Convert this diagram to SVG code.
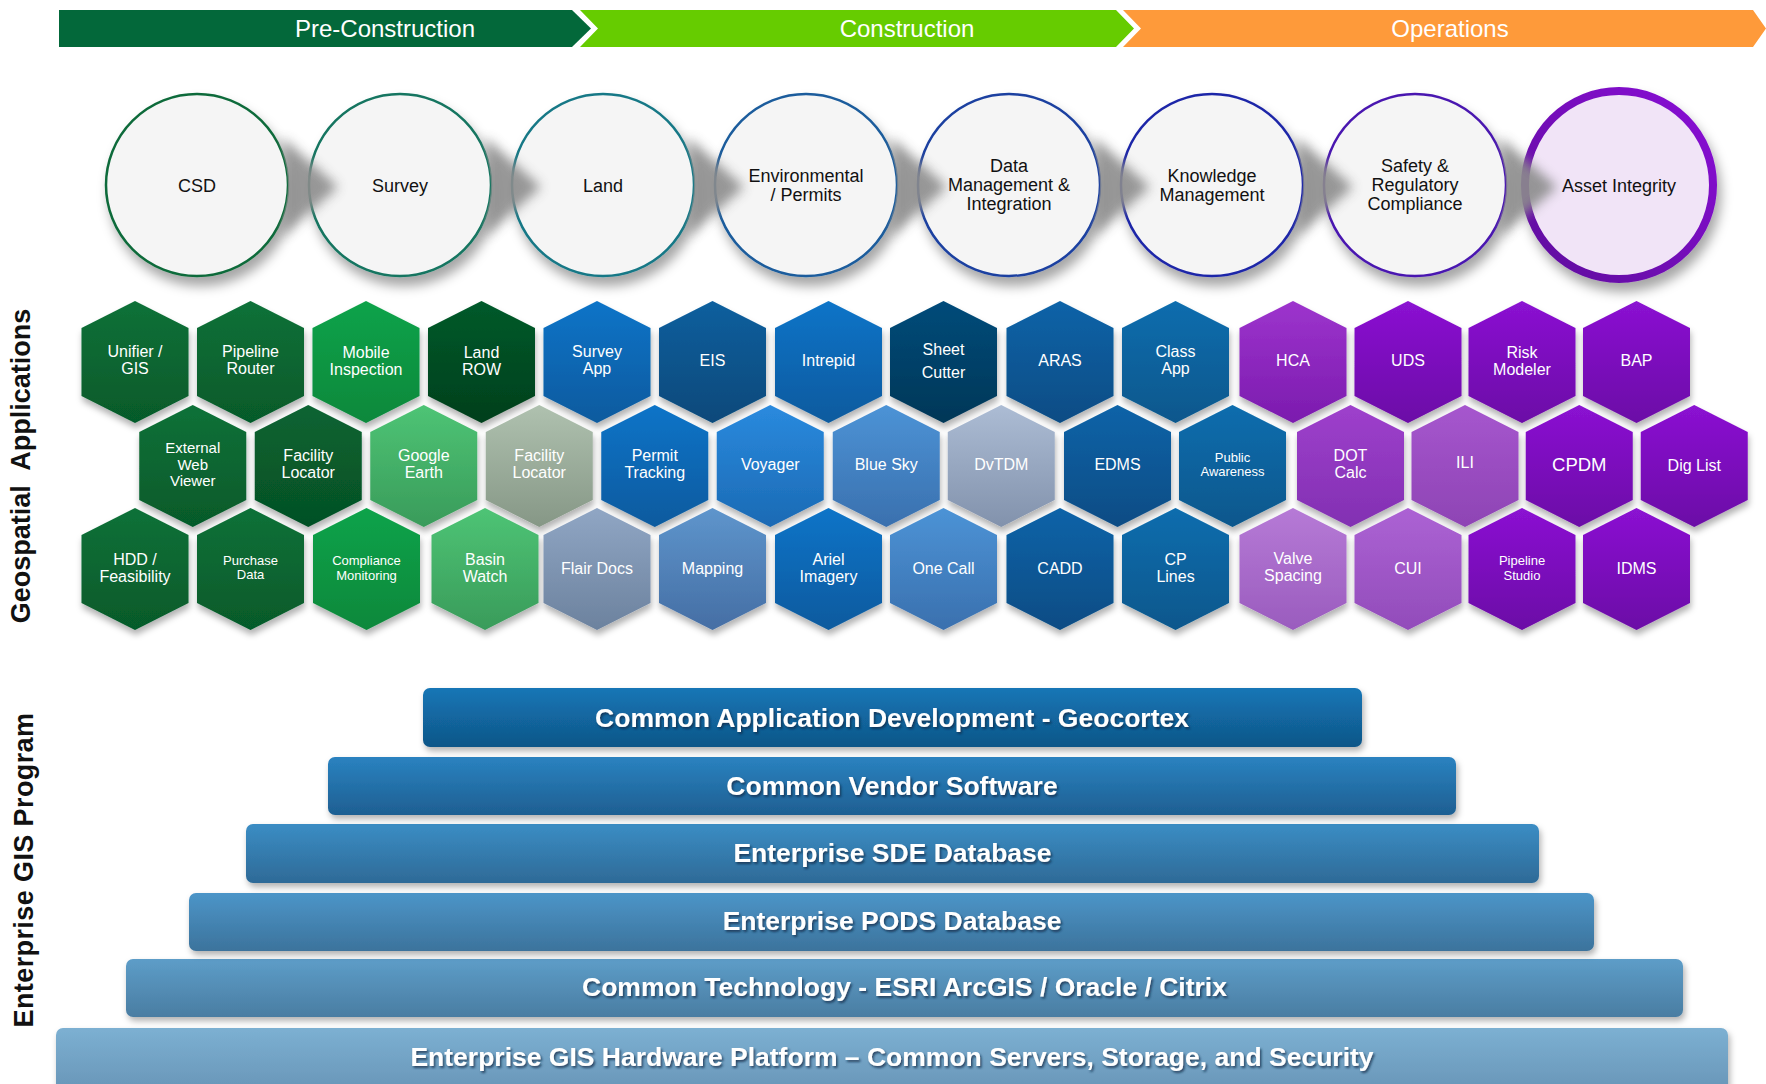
<svg xmlns="http://www.w3.org/2000/svg" xmlns:xlink="http://www.w3.org/1999/xlink" width="1766" height="1084" viewBox="0 0 1766 1084">
<style>
text{font-family:"Liberation Sans",Arial,sans-serif}
.band{font-size:24px;fill:#fff;text-anchor:middle}
.ct{font-size:18px;fill:#111;text-anchor:middle}
.ht{font-size:16px;fill:#fff;text-anchor:middle}
.hs{font-size:13px}
.hb{font-size:18.5px}
.hx{filter:url(#hsh)}
.cir{fill:#f5f5f5;stroke-width:2.5;filter:url(#csh)}
.big{fill:#f1e4f7;stroke-width:8}
.arr{fill:#8c8c8c;opacity:.9;filter:url(#blur)}
.bar{filter:url(#bsh)}
.bt{font-size:26.5px;font-weight:bold;fill:#fff;text-anchor:middle;filter:url(#tsh)}
.side{font-size:27px;font-weight:bold;fill:#111;text-anchor:middle}
</style>
<defs>
<filter id="csh" x="-20%" y="-20%" width="150%" height="150%"><feDropShadow dx="4" dy="9" stdDeviation="6" flood-color="#000" flood-opacity="0.35"/></filter>
<filter id="hsh" x="-20%" y="-20%" width="140%" height="140%"><feDropShadow dx="1" dy="5" stdDeviation="3" flood-color="#000" flood-opacity="0.3"/></filter>
<filter id="bsh" x="-5%" y="-20%" width="110%" height="150%"><feDropShadow dx="2" dy="4" stdDeviation="3" flood-color="#000" flood-opacity="0.3"/></filter>
<filter id="tsh" x="-5%" y="-30%" width="110%" height="160%"><feDropShadow dx="1.5" dy="2" stdDeviation="1" flood-color="#0b2a45" flood-opacity="0.75"/></filter>
<filter id="blur" x="-50%" y="-50%" width="200%" height="200%"><feGaussianBlur stdDeviation="6"/></filter>
<polygon id="hx" points="0,-61 53.5,-34 53.5,34 0,61 -53.5,34 -53.5,-34"/>
<linearGradient id="ring" x1="1" y1="0" x2="0" y2="1"><stop offset="0" stop-color="#8a12d6"/><stop offset="1" stop-color="#5e0a9c"/></linearGradient>
<linearGradient id="gA" x1="0" y1="0" x2="0" y2="1"><stop offset="0" stop-color="#0c7138"/><stop offset="1" stop-color="#065a2a"/></linearGradient>
<linearGradient id="gB" x1="0" y1="0" x2="0" y2="1"><stop offset="0" stop-color="#0a6432"/><stop offset="1" stop-color="#055024"/></linearGradient>
<linearGradient id="gBr" x1="0" y1="0" x2="0" y2="1"><stop offset="0" stop-color="#0ca34a"/><stop offset="1" stop-color="#08883b"/></linearGradient>
<linearGradient id="gDk" x1="0" y1="0" x2="0" y2="1"><stop offset="0" stop-color="#065a2a"/><stop offset="1" stop-color="#033f1c"/></linearGradient>
<linearGradient id="gLt" x1="0" y1="0" x2="0" y2="1"><stop offset="0" stop-color="#4ec475"/><stop offset="1" stop-color="#399b5a"/></linearGradient>
<linearGradient id="gGy" x1="0" y1="0" x2="0" y2="1"><stop offset="0" stop-color="#afc1af"/><stop offset="1" stop-color="#869786"/></linearGradient>
<linearGradient id="b1" x1="0" y1="0" x2="0" y2="1"><stop offset="0" stop-color="#0a74c8"/><stop offset="1" stop-color="#0a5a9e"/></linearGradient>
<linearGradient id="bE" x1="0" y1="0" x2="0" y2="1"><stop offset="0" stop-color="#0a5f9e"/><stop offset="1" stop-color="#07497a"/></linearGradient>
<linearGradient id="bN" x1="0" y1="0" x2="0" y2="1"><stop offset="0" stop-color="#064b7a"/><stop offset="1" stop-color="#033757"/></linearGradient>
<linearGradient id="bA" x1="0" y1="0" x2="0" y2="1"><stop offset="0" stop-color="#0a63a8"/><stop offset="1" stop-color="#084c84"/></linearGradient>
<linearGradient id="bC" x1="0" y1="0" x2="0" y2="1"><stop offset="0" stop-color="#0a6dae"/><stop offset="1" stop-color="#07578c"/></linearGradient>
<linearGradient id="bV" x1="0" y1="0" x2="0" y2="1"><stop offset="0" stop-color="#2a8ade"/><stop offset="1" stop-color="#1b6ab4"/></linearGradient>
<linearGradient id="bS" x1="0" y1="0" x2="0" y2="1"><stop offset="0" stop-color="#4c93d6"/><stop offset="1" stop-color="#3a70ae"/></linearGradient>
<linearGradient id="bM" x1="0" y1="0" x2="0" y2="1"><stop offset="0" stop-color="#5e95cc"/><stop offset="1" stop-color="#456ea4"/></linearGradient>
<linearGradient id="bG" x1="0" y1="0" x2="0" y2="1"><stop offset="0" stop-color="#acbcd4"/><stop offset="1" stop-color="#8292ac"/></linearGradient>
<linearGradient id="bF" x1="0" y1="0" x2="0" y2="1"><stop offset="0" stop-color="#90a6c4"/><stop offset="1" stop-color="#6c829e"/></linearGradient>
<linearGradient id="pH" x1="0" y1="0" x2="0" y2="1"><stop offset="0" stop-color="#9d34cd"/><stop offset="1" stop-color="#7b1bae"/></linearGradient>
<linearGradient id="pM" x1="0" y1="0" x2="0" y2="1"><stop offset="0" stop-color="#8b12d2"/><stop offset="1" stop-color="#6b08a6"/></linearGradient>
<linearGradient id="pD" x1="0" y1="0" x2="0" y2="1"><stop offset="0" stop-color="#9e40cc"/><stop offset="1" stop-color="#8230b2"/></linearGradient>
<linearGradient id="pI" x1="0" y1="0" x2="0" y2="1"><stop offset="0" stop-color="#a656ce"/><stop offset="1" stop-color="#8e44b4"/></linearGradient>
<linearGradient id="pV" x1="0" y1="0" x2="0" y2="1"><stop offset="0" stop-color="#b67ad6"/><stop offset="1" stop-color="#9a5cbe"/></linearGradient>
<linearGradient id="pC" x1="0" y1="0" x2="0" y2="1"><stop offset="0" stop-color="#ac62d4"/><stop offset="1" stop-color="#924cba"/></linearGradient>
<linearGradient id="r1" x1="0" y1="0" x2="0" y2="1"><stop offset="0" stop-color="#1576b6"/><stop offset="1" stop-color="#0f5688"/></linearGradient>
<linearGradient id="r2" x1="0" y1="0" x2="0" y2="1"><stop offset="0" stop-color="#2a82c0"/><stop offset="1" stop-color="#1e5f92"/></linearGradient>
<linearGradient id="r3" x1="0" y1="0" x2="0" y2="1"><stop offset="0" stop-color="#3b8dc4"/><stop offset="1" stop-color="#2e6a97"/></linearGradient>
<linearGradient id="r4" x1="0" y1="0" x2="0" y2="1"><stop offset="0" stop-color="#4c95c8"/><stop offset="1" stop-color="#3c739c"/></linearGradient>
<linearGradient id="r5" x1="0" y1="0" x2="0" y2="1"><stop offset="0" stop-color="#5d9dc8"/><stop offset="1" stop-color="#4a7da2"/></linearGradient>
<linearGradient id="r6" x1="0" y1="0" x2="0" y2="1"><stop offset="0" stop-color="#7cb0d2"/><stop offset="1" stop-color="#6692b4"/></linearGradient>
<clipPath id="k0"><path clip-rule="evenodd" d="M260,110H360V265H260Z M106,185a91,91 0 1,0 182,0a91,91 0 1,0 -182,0Z"/></clipPath>
<clipPath id="k1"><path clip-rule="evenodd" d="M463,110H563V265H463Z M309,185a91,91 0 1,0 182,0a91,91 0 1,0 -182,0Z"/></clipPath>
<clipPath id="k2"><path clip-rule="evenodd" d="M666,110H766V265H666Z M512,185a91,91 0 1,0 182,0a91,91 0 1,0 -182,0Z"/></clipPath>
<clipPath id="k3"><path clip-rule="evenodd" d="M869,110H969V265H869Z M715,185a91,91 0 1,0 182,0a91,91 0 1,0 -182,0Z"/></clipPath>
<clipPath id="k4"><path clip-rule="evenodd" d="M1072,110H1172V265H1072Z M918,185a91,91 0 1,0 182,0a91,91 0 1,0 -182,0Z"/></clipPath>
<clipPath id="k5"><path clip-rule="evenodd" d="M1275,110H1375V265H1275Z M1121,185a91,91 0 1,0 182,0a91,91 0 1,0 -182,0Z"/></clipPath>
<clipPath id="k6"><path clip-rule="evenodd" d="M1478,110H1578V265H1478Z M1324,185a91,91 0 1,0 182,0a91,91 0 1,0 -182,0Z"/></clipPath>
</defs>
<rect width="1766" height="1084" fill="#fff"/>

<g id="phases">
<polygon points="59,10 572,10 591,28.5 572,47 59,47" fill="#03683a"/>
<polygon points="580,10 1116,10 1134,28.5 1116,47 580,47 598,28.5" fill="#66cc00"/>
<polygon points="1123,10 1753,10 1766,28.5 1753,47 1123,47 1141,28.5" fill="#fe9a3a"/>
<text class="band" x="385" y="36.5">Pre-Construction</text>
<text class="band" x="907" y="36.5">Construction</text>
<text class="band" x="1450" y="36.5">Operations</text>
</g>

<g id="c-csd"><circle class="cir" cx="197" cy="185" r="91" stroke="#0e6b3a"/><text class="ct" x="197" y="191.5">CSD</text></g>
<g id="c-survey"><circle class="cir" cx="400" cy="185" r="91" stroke="#137560"/><text class="ct" x="400" y="191.5">Survey</text></g>
<g id="c-land"><circle class="cir" cx="603" cy="185" r="91" stroke="#177886"/><text class="ct" x="603" y="191.5">Land</text></g>
<g id="c-env"><circle class="cir" cx="806" cy="185" r="91" stroke="#1a5c9c"/><text class="ct"><tspan x="806" y="181.5">Environmental</tspan><tspan x="806" y="200.5">/ Permits</tspan></text></g>
<g id="c-data"><circle class="cir" cx="1009" cy="185" r="91" stroke="#1a40a0"/><text class="ct"><tspan x="1009" y="171.5">Data</tspan><tspan x="1009" y="190.5">Management &amp;</tspan><tspan x="1009" y="209.5">Integration</tspan></text></g>
<g id="c-knowledge"><circle class="cir" cx="1212" cy="185" r="91" stroke="#1e26a8"/><text class="ct"><tspan x="1212" y="181.5">Knowledge</tspan><tspan x="1212" y="200.5">Management</tspan></text></g>
<g id="c-safety"><circle class="cir" cx="1415" cy="185" r="91" stroke="#4a18b0"/><text class="ct"><tspan x="1415" y="171.5">Safety &amp;</tspan><tspan x="1415" y="190.5">Regulatory</tspan><tspan x="1415" y="209.5">Compliance</tspan></text></g>
<g id="c-asset"><circle class="cir big" cx="1619" cy="185" r="94" stroke="url(#ring)"/><text class="ct" x="1619" y="191.5">Asset Integrity</text></g>

<g id="connectors">
<g clip-path="url(#k0)"><polygon class="arr" points="283,138 338,187 283,236"/></g>
<g clip-path="url(#k1)"><polygon class="arr" points="486,138 541,187 486,236"/></g>
<g clip-path="url(#k2)"><polygon class="arr" points="689,138 744,187 689,236"/></g>
<g clip-path="url(#k3)"><polygon class="arr" points="892,138 947,187 892,236"/></g>
<g clip-path="url(#k4)"><polygon class="arr" points="1095,138 1150,187 1095,236"/></g>
<g clip-path="url(#k5)"><polygon class="arr" points="1298,138 1353,187 1298,236"/></g>
<g clip-path="url(#k6)"><polygon class="arr" points="1501,138 1557,187 1501,236"/></g>
</g>

<text class="side" transform="translate(30,466) rotate(-90)" word-spacing="8">Geospatial Applications</text>
<text class="side" transform="translate(33,870) rotate(-90)" letter-spacing="0.4">Enterprise GIS Program</text>

<g id="h-unifier" transform="translate(135,362)"><use href="#hx" class="hx" fill="url(#gA)"/><text class="ht"><tspan x="0" y="-5">Unifier /</tspan><tspan x="0" y="12">GIS</tspan></text></g>
<g id="h-router" transform="translate(250.5,362)"><use href="#hx" class="hx" fill="url(#gA)"/><text class="ht"><tspan x="0" y="-5">Pipeline</tspan><tspan x="0" y="12">Router</tspan></text></g>
<g id="h-mobile" transform="translate(366,362)"><use href="#hx" class="hx" fill="url(#gBr)"/><text class="ht"><tspan x="0" y="-4">Mobile</tspan><tspan x="0" y="13">Inspection</tspan></text></g>
<g id="h-landrow" transform="translate(481.5,362)"><use href="#hx" class="hx" fill="url(#gDk)"/><text class="ht"><tspan x="0" y="-4">Land</tspan><tspan x="0" y="13">ROW</tspan></text></g>
<g id="h-surveyapp" transform="translate(597,362)"><use href="#hx" class="hx" fill="url(#b1)"/><text class="ht"><tspan x="0" y="-5">Survey</tspan><tspan x="0" y="12">App</tspan></text></g>
<g id="h-eis" transform="translate(712.5,362)"><use href="#hx" class="hx" fill="url(#bE)"/><text class="ht" x="0" y="4">EIS</text></g>
<g id="h-intrepid" transform="translate(828.5,362)"><use href="#hx" class="hx" fill="url(#b1)"/><text class="ht" x="0" y="4">Intrepid</text></g>
<g id="h-sheetcutter" transform="translate(943.5,362)"><use href="#hx" class="hx" fill="url(#bN)"/><text class="ht"><tspan x="0" y="-7">Sheet</tspan><tspan x="0" y="16">Cutter</tspan></text></g>
<g id="h-aras" transform="translate(1060,362)"><use href="#hx" class="hx" fill="url(#bA)"/><text class="ht" x="0" y="4">ARAS</text></g>
<g id="h-classapp" transform="translate(1175.5,362)"><use href="#hx" class="hx" fill="url(#bC)"/><text class="ht"><tspan x="0" y="-5">Class</tspan><tspan x="0" y="12">App</tspan></text></g>
<g id="h-hca" transform="translate(1293,362)"><use href="#hx" class="hx" fill="url(#pH)"/><text class="ht" x="0" y="4">HCA</text></g>
<g id="h-uds" transform="translate(1408,362)"><use href="#hx" class="hx" fill="url(#pM)"/><text class="ht" x="0" y="4">UDS</text></g>
<g id="h-risk" transform="translate(1522,362)"><use href="#hx" class="hx" fill="url(#pM)"/><text class="ht"><tspan x="0" y="-4">Risk</tspan><tspan x="0" y="13">Modeler</tspan></text></g>
<g id="h-bap" transform="translate(1636.5,362)"><use href="#hx" class="hx" fill="url(#pM)"/><text class="ht" x="0" y="4">BAP</text></g>

<g id="h-extweb" transform="translate(192.75,466)"><use href="#hx" class="hx" fill="url(#gA)"/><text class="ht" style="font-size:15px"><tspan x="0" y="-13">External</tspan><tspan x="0" y="3.5">Web</tspan><tspan x="0" y="20">Viewer</tspan></text></g>
<g id="h-facloc1" transform="translate(308.25,466)"><use href="#hx" class="hx" fill="url(#gB)"/><text class="ht"><tspan x="0" y="-5">Facility</tspan><tspan x="0" y="12">Locator</tspan></text></g>
<g id="h-google" transform="translate(423.75,466)"><use href="#hx" class="hx" fill="url(#gLt)"/><text class="ht"><tspan x="0" y="-5">Google</tspan><tspan x="0" y="12">Earth</tspan></text></g>
<g id="h-facloc2" transform="translate(539.25,466)"><use href="#hx" class="hx" fill="url(#gGy)"/><text class="ht"><tspan x="0" y="-5">Facility</tspan><tspan x="0" y="12">Locator</tspan></text></g>
<g id="h-permit" transform="translate(654.75,466)"><use href="#hx" class="hx" fill="url(#b1)"/><text class="ht"><tspan x="0" y="-5">Permit</tspan><tspan x="0" y="12">Tracking</tspan></text></g>
<g id="h-voyager" transform="translate(770.25,466)"><use href="#hx" class="hx" fill="url(#bV)"/><text class="ht" x="0" y="4">Voyager</text></g>
<g id="h-bluesky" transform="translate(886.25,466)"><use href="#hx" class="hx" fill="url(#bS)"/><text class="ht" x="0" y="4">Blue Sky</text></g>
<g id="h-dvtdm" transform="translate(1001.25,466)"><use href="#hx" class="hx" fill="url(#bG)"/><text class="ht" x="0" y="4">DvTDM</text></g>
<g id="h-edms" transform="translate(1117.5,466)"><use href="#hx" class="hx" fill="url(#bA)"/><text class="ht" x="0" y="4">EDMS</text></g>
<g id="h-public" transform="translate(1232.5,466)"><use href="#hx" class="hx" fill="url(#bC)"/><text class="ht hs"><tspan x="0" y="-4.5">Public</tspan><tspan x="0" y="9.5">Awareness</tspan></text></g>
<g id="h-dot" transform="translate(1350.5,466)"><use href="#hx" class="hx" fill="url(#pD)"/><text class="ht"><tspan x="0" y="-5">DOT</tspan><tspan x="0" y="12">Calc</tspan></text></g>
<g id="h-ili" transform="translate(1465,466)"><use href="#hx" class="hx" fill="url(#pI)"/><text class="ht" x="0" y="2">ILI</text></g>
<g id="h-cpdm" transform="translate(1579.25,466)"><use href="#hx" class="hx" fill="url(#pM)"/><text class="ht hb" x="0" y="4.5">CPDM</text></g>
<g id="h-diglist" transform="translate(1694.25,466)"><use href="#hx" class="hx" fill="url(#pM)"/><text class="ht" x="0" y="4.5">Dig List</text></g>

<g id="h-hdd" transform="translate(135,569)"><use href="#hx" class="hx" fill="url(#gA)"/><text class="ht"><tspan x="0" y="-4">HDD /</tspan><tspan x="0" y="13">Feasibility</tspan></text></g>
<g id="h-purchase" transform="translate(250.5,569)"><use href="#hx" class="hx" fill="url(#gA)"/><text class="ht hs"><tspan x="0" y="-4.5">Purchase</tspan><tspan x="0" y="10">Data</tspan></text></g>
<g id="h-compliance" transform="translate(366.5,569)"><use href="#hx" class="hx" fill="url(#gBr)"/><text class="ht hs"><tspan x="0" y="-4">Compliance</tspan><tspan x="0" y="10.5">Monitoring</tspan></text></g>
<g id="h-basin" transform="translate(485,569)"><use href="#hx" class="hx" fill="url(#gLt)"/><text class="ht"><tspan x="0" y="-4">Basin</tspan><tspan x="0" y="13">Watch</tspan></text></g>
<g id="h-flair" transform="translate(597,569)"><use href="#hx" class="hx" fill="url(#bF)"/><text class="ht" x="0" y="4.5">Flair Docs</text></g>
<g id="h-mapping" transform="translate(712.5,569)"><use href="#hx" class="hx" fill="url(#bM)"/><text class="ht" x="0" y="4.5">Mapping</text></g>
<g id="h-ariel" transform="translate(828.5,569)"><use href="#hx" class="hx" fill="url(#b1)"/><text class="ht"><tspan x="0" y="-4">Ariel</tspan><tspan x="0" y="13">Imagery</tspan></text></g>
<g id="h-onecall" transform="translate(943.5,569)"><use href="#hx" class="hx" fill="url(#bS)"/><text class="ht" x="0" y="4.5">One Call</text></g>
<g id="h-cadd" transform="translate(1060,569)"><use href="#hx" class="hx" fill="url(#bA)"/><text class="ht" x="0" y="4.5">CADD</text></g>
<g id="h-cplines" transform="translate(1175.5,569)"><use href="#hx" class="hx" fill="url(#bC)"/><text class="ht"><tspan x="0" y="-4">CP</tspan><tspan x="0" y="13">Lines</tspan></text></g>
<g id="h-valve" transform="translate(1293,569)"><use href="#hx" class="hx" fill="url(#pV)"/><text class="ht"><tspan x="0" y="-5">Valve</tspan><tspan x="0" y="12">Spacing</tspan></text></g>
<g id="h-cui" transform="translate(1408,569)"><use href="#hx" class="hx" fill="url(#pC)"/><text class="ht" x="0" y="4.5">CUI</text></g>
<g id="h-studio" transform="translate(1522,569)"><use href="#hx" class="hx" fill="url(#pM)"/><text class="ht hs"><tspan x="0" y="-4">Pipeline</tspan><tspan x="0" y="10.5">Studio</tspan></text></g>
<g id="h-idms" transform="translate(1636.5,569)"><use href="#hx" class="hx" fill="url(#pM)"/><text class="ht" x="0" y="5">IDMS</text></g>

<g id="bar-hardware"><rect class="bar" x="56" y="1028" width="1672" height="72" rx="7" fill="url(#r6)"/><text class="bt" x="892" y="1066">Enterprise GIS Hardware Platform – Common Servers, Storage, and Security</text></g>
<g id="bar-technology"><rect class="bar" x="126" y="959" width="1557" height="58" rx="7" fill="url(#r5)"/><text class="bt" x="904.5" y="996">Common Technology - ESRI ArcGIS / Oracle / Citrix</text></g>
<g id="bar-pods"><rect class="bar" x="189" y="893" width="1405" height="58" rx="7" fill="url(#r4)"/><text class="bt" x="892" y="929.5">Enterprise PODS Database</text></g>
<g id="bar-sde"><rect class="bar" x="246" y="824" width="1293" height="59" rx="7" fill="url(#r3)"/><text class="bt" x="892.5" y="862">Enterprise SDE Database</text></g>
<g id="bar-vendor"><rect class="bar" x="328" y="757" width="1128" height="58" rx="7" fill="url(#r2)"/><text class="bt" x="892" y="794.5">Common Vendor Software</text></g>
<g id="bar-appdev"><rect class="bar" x="423" y="688" width="939" height="59" rx="7" fill="url(#r1)"/><text class="bt" x="892" y="726.5">Common Application Development - Geocortex</text></g>
</svg>
